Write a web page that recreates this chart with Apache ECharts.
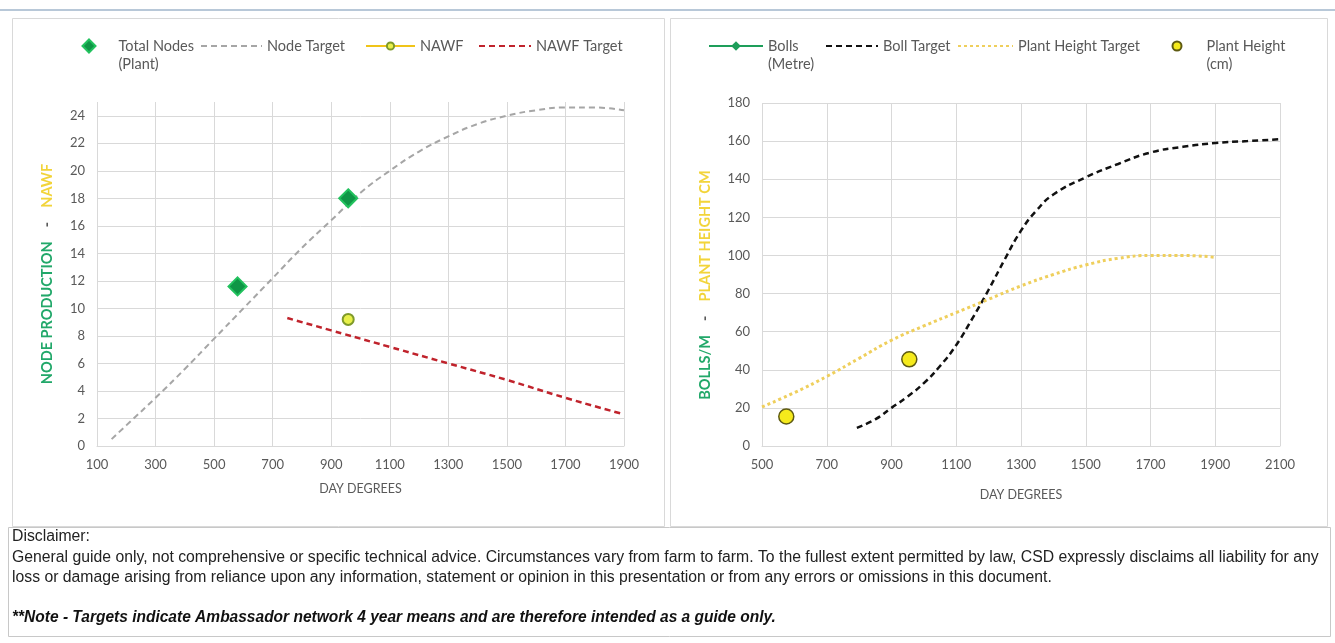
<!DOCTYPE html>
<html>
<head>
<meta charset="utf-8">
<script src="https://cdn.jsdelivr.net/npm/echarts@6/dist/echarts.min.js"></script>
<style>
html,body{margin:0;padding:0;background:#fff;}
#c{width:1335px;height:643px;}
</style>
</head>
<body>
<div id="c"></div>
<script>
// ---------- DATA ----------
// Left chart (x = day degrees)
const totalNodesDD = [580, 958];
const totalNodesVal = [11.6, 18.0];
const nodeTargetDD = [150,200,300,400,500,600,700,800,900,1000,1100,1200,1300,1400,1500,1600,1700,1800,1900];
const nodeTargetVal = [0.5,1.5,3.5,5.6,7.8,10.0,12.2,14.4,16.4,18.4,20.0,21.4,22.5,23.4,24.0,24.4,24.6,24.6,24.4];
const nawfDD = [958];
const nawfVal = [9.2];
const nawfTargetDD = [750,900,1100,1300,1500,1700,1900];
const nawfTargetVal = [9.3,8.4,7.2,6.0,4.8,3.5,2.3];

// Right chart
const bollsDD = [];
const bollsVal = [];
const bollTargetDD = [793,850,900,950,1000,1050,1100,1150,1200,1250,1300,1350,1400,1500,1600,1700,1800,1900,2000,2100];
const bollTargetVal = [9.5,14,20,26,33,42,53,67,82,98,113,124,132,141,148,154,157,159,160,161];
const heightTargetDD = [500,600,700,800,900,1000,1100,1200,1300,1400,1500,1600,1700,1800,1900];
const heightTargetVal = [20.5,28,36.5,46,55.5,63,70,77,84,90,95,98.5,100,100,99];
const plantHeightDD = [575, 955];
const plantHeightVal = [15.5, 45.5];

// Text
const leftYName = ['NODE PRODUCTION', 'NAWF'];
const rightYName = ['BOLLS/M', 'PLANT HEIGHT CM'];
const xName = 'DAY DEGREES';
const disclaimerLines = [
  'Disclaimer:',
  'General guide only, not comprehensive or specific technical advice. Circumstances vary from farm to farm. To the fullest extent permitted by law, CSD expressly disclaims all liability for any',
  'loss or damage arising from reliance upon any information, statement or opinion in this presentation or from any errors or omissions in this document.'
];
const noteLine = '**Note - Targets indicate Ambassador network 4 year means and are therefore intended as a guide only.';

// ---------- HELPERS ----------
const zip = (a, b) => a.map((x, i) => [x, b[i]]);
const FONT = 'Lato, "Noto Sans", sans-serif';
const TXT = '#595959';
const GRID = '#d9d9d9';
const LFS = 14.5;

// icon centre is placed at y = 46 for every legend
function legendAt(name, left, w, h, opts) {
  opts = opts || {};
  const ts = {color: TXT, fontSize: LFS, fontFamily: FONT, lineHeight: 18, padding: [0, 0, 0, opts.padL || 0]};
  const item = {name: name};
  if (opts.hideSymbol) item.itemStyle = {opacity: 0};
  return {
    data: [item],
    left: left,
    top: opts.multi ? 46 - 27 : 46 - Math.max(h, 18) / 2,
    padding: 0,
    itemWidth: w, itemHeight: h,
    selectedMode: false,
    formatter: function (n) {
      const p = n.indexOf(' (');
      return p < 0 ? n : '\n' + n.slice(0, p) + '\n' + n.slice(p + 1);
    },
    textStyle: ts
  };
}

const chart = echarts.init(document.getElementById('c'), null, {renderer: 'canvas'});

const axisNameStyle = (fs) => ({
  fontSize: fs, fontWeight: 'bold', fontFamily: FONT,
  rich: {
    g: {color: '#22a86a', fontSize: fs, fontWeight: 'bold', fontFamily: FONT},
    k: {color: '#595959', fontSize: fs, fontWeight: 'bold', fontFamily: FONT},
    y: {color: '#f2d43a', fontSize: fs, fontWeight: 'bold', fontFamily: FONT}
  }
});

const option = {
  animation: false,
  backgroundColor: '#ffffff',
  legend: [
    legendAt('Total Nodes (Plant)', 81.5, 13, 13, {multi: true, padL: 18}),
    legendAt('Node Target', 200, 61, 14, {hideSymbol: true}),
    legendAt('NAWF', 365, 49, 9, {}),
    legendAt('NAWF Target', 478, 52, 14, {hideSymbol: true}),
    legendAt('Bolls (Metre)', 708, 54, 12, {multi: true}),
    legendAt('Boll Target', 825, 52, 14, {hideSymbol: true}),
    legendAt('Plant Height Target', 957, 55, 14, {hideSymbol: true}),
    legendAt('Plant Height (cm)', 1171.5, 9, 9, {multi: true, padL: 20})
  ],
  grid: [
    {left: 97, top: 102, width: 527, height: 344},
    {left: 762, top: 103, width: 518, height: 343}
  ],
  xAxis: [
    {
      type: 'value', gridIndex: 0, min: 100, max: 1900, interval: 100,
      name: xName, nameLocation: 'middle', nameGap: 36,
      nameTextStyle: {color: TXT, fontSize: 12.5, fontFamily: FONT},
      axisLine: {show: true, lineStyle: {color: GRID}},
      axisTick: {show: false},
      axisLabel: {color: TXT, fontSize: 13, fontFamily: FONT, margin: 12,
        formatter: v => ((v - 100) % 200 === 0 ? String(v) : '')},
      splitLine: {show: true, lineStyle: {color: [GRID, 'transparent'], width: 1}}
    },
    {
      type: 'value', gridIndex: 1, min: 500, max: 2100, interval: 100,
      name: xName, nameLocation: 'middle', nameGap: 42,
      nameTextStyle: {color: TXT, fontSize: 12.5, fontFamily: FONT},
      axisLine: {show: true, lineStyle: {color: GRID}},
      axisTick: {show: false},
      axisLabel: {color: TXT, fontSize: 13, fontFamily: FONT, margin: 12,
        formatter: v => ((v - 500) % 200 === 0 ? String(v) : '')},
      splitLine: {show: true, lineStyle: {color: [GRID, 'transparent'], width: 1}}
    }
  ],
  yAxis: [
    {
      type: 'value', gridIndex: 0, min: 0, max: 25, interval: 1,
      name: '{g|' + leftYName[0] + '}    {k|-}    {y|' + leftYName[1] + '}',
      nameLocation: 'middle', nameRotate: 90, nameGap: 42,
      nameTextStyle: axisNameStyle(14.5),
      axisLine: {show: false},
      axisTick: {show: false},
      axisLabel: {color: TXT, fontSize: 13, fontFamily: FONT, margin: 12,
        formatter: v => (v % 2 === 0 ? String(v) : '')},
      splitLine: {show: true, lineStyle: {color: [GRID, 'transparent'], width: 1}}
    },
    {
      type: 'value', gridIndex: 1, min: 0, max: 180, interval: 20,
      name: '{g|' + rightYName[0] + '}    {k|-}    {y|' + rightYName[1] + '}      ',
      nameLocation: 'middle', nameRotate: 90, nameGap: 49,
      nameTextStyle: axisNameStyle(14.5),
      axisLine: {show: false},
      axisTick: {show: false},
      axisLabel: {color: TXT, fontSize: 13, fontFamily: FONT, margin: 12},
      splitLine: {show: true, lineStyle: {color: GRID, width: 1}}
    }
  ],
  series: [
    {
      name: 'Node Target', type: 'line', xAxisIndex: 0, yAxisIndex: 0,
      data: zip(nodeTargetDD, nodeTargetVal), smooth: true, symbol: 'none',
      lineStyle: {color: '#a6a6a6', width: 2, type: [6, 4]}, itemStyle: {color: '#a6a6a6'}, z: 2
    },
    {
      name: 'NAWF Target', type: 'line', xAxisIndex: 0, yAxisIndex: 0,
      data: zip(nawfTargetDD, nawfTargetVal), smooth: true, symbol: 'none',
      lineStyle: {color: '#c0232c', width: 2.5, type: [6, 4]}, itemStyle: {color: '#c0232c'}, z: 2
    },
    {
      name: 'Total Nodes (Plant)', type: 'scatter', xAxisIndex: 0, yAxisIndex: 0,
      data: zip(totalNodesDD, totalNodesVal), symbol: 'diamond', symbolSize: 18,
      itemStyle: {color: '#0f9646', borderColor: '#22c25e', borderWidth: 2, opacity: 1}, z: 4
    },
    {
      name: 'NAWF', type: 'line', xAxisIndex: 0, yAxisIndex: 0,
      data: zip(nawfDD, nawfVal), symbol: 'circle', symbolSize: 11, showSymbol: true,
      lineStyle: {color: '#f0c419', width: 2.5},
      itemStyle: {color: '#e8f04a', borderColor: '#7f9a2a', borderWidth: 2}, z: 4
    },
    {
      name: 'Bolls (Metre)', type: 'line', xAxisIndex: 1, yAxisIndex: 1,
      data: zip(bollsDD, bollsVal), symbol: 'diamond', symbolSize: 9,
      lineStyle: {color: '#1e9e5a', width: 2.5},
      itemStyle: {color: '#1e9e5a'}
    },
    {
      name: 'Boll Target', type: 'line', xAxisIndex: 1, yAxisIndex: 1,
      data: zip(bollTargetDD, bollTargetVal), smooth: true, symbol: 'none',
      lineStyle: {color: '#111111', width: 2.5, type: [6, 4]}, itemStyle: {color: '#111111'}, z: 2
    },
    {
      name: 'Plant Height Target', type: 'line', xAxisIndex: 1, yAxisIndex: 1,
      data: zip(heightTargetDD, heightTargetVal), smooth: true, symbol: 'none',
      lineStyle: {color: '#efcf5c', width: 3, type: [3, 3]}, itemStyle: {color: '#efcf5c'}, z: 2
    },
    {
      name: 'Plant Height (cm)', type: 'scatter', xAxisIndex: 1, yAxisIndex: 1,
      data: zip(plantHeightDD, plantHeightVal), symbol: 'circle', symbolSize: 15,
      itemStyle: {color: '#f5ea1c', borderColor: '#5e5a12', borderWidth: 1.5, opacity: 1}, z: 4
    }
  ],
  graphic: [
    {type: 'line', shape: {x1: 0, y1: 10, x2: 1335, y2: 10}, style: {stroke: '#b8c8d8', lineWidth: 2}, silent: true},
    {type: 'rect', shape: {x: 12.5, y: 18.5, width: 652, height: 508}, style: {fill: 'none', stroke: '#d9d9d9', lineWidth: 1}, silent: true, z: -1},
    {type: 'rect', shape: {x: 670.5, y: 18.5, width: 657, height: 508}, style: {fill: 'none', stroke: '#d9d9d9', lineWidth: 1}, silent: true, z: -1},
    {type: 'rect', shape: {x: 8.5, y: 527.5, width: 1322, height: 109}, style: {fill: 'none', stroke: '#c8c8c8', lineWidth: 1}, silent: true, z: -1},
    {type: 'text', x: 12, y: 537, scaleX: 0.985, style: {text: disclaimerLines[0], x: 0, y: 0, verticalAlign: 'middle', fill: '#222', font: '16px "Liberation Sans", Arial, sans-serif'}},
    {type: 'text', x: 12, y: 558, scaleX: 0.985, style: {text: disclaimerLines[1], x: 0, y: 0, verticalAlign: 'middle', fill: '#222', font: '16px "Liberation Sans", Arial, sans-serif'}},
    {type: 'text', x: 12, y: 578, scaleX: 0.985, style: {text: disclaimerLines[2], x: 0, y: 0, verticalAlign: 'middle', fill: '#222', font: '16px "Liberation Sans", Arial, sans-serif'}},
    {type: 'text', x: 12, y: 618, scaleX: 0.97, style: {text: noteLine, x: 0, y: 0, verticalAlign: 'middle', fill: '#111', font: 'italic bold 16px "Liberation Sans", Arial, sans-serif'}}
  ]
};
chart.setOption(option);
</script>
</body>
</html>
